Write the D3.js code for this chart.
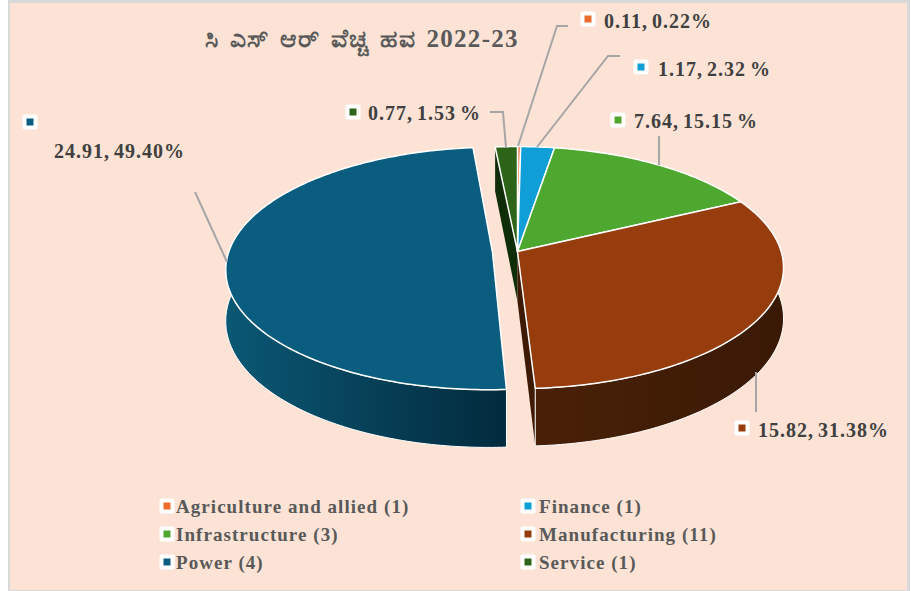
<!DOCTYPE html>
<html>
  <head>
    <title></title>
    <script src="https://cdn.jsdelivr.net/npm/d3@7"></script>
    <style>
      body, html{
        margin: 0;
        background: #fff;
      }
      svg{
        display: block;
      }
      text{
        font-family: "Liberation Serif", serif;
        font-weight: bold;
      }
    </style>
  </head>
  <body>
    <script>

// values
var categories = ['Agriculture and allied (1)', 'Finance (1)', 'Infrastructure (3)', 'Manufacturing (11)', 'Power (4)', 'Service (1)']
var percents = [0.22, 2.32, 15.15, 31.38, 49.40, 1.53]
var valueLabels = ['0.11, 0.22%', '1.17, 2.32 %', '7.64, 15.15 %', '15.82, 31.38%', '24.91, 49.40%', '0.77, 1.53 %']
var titleText = 'ಸಿ ಎಸ್ ಆರ್ ವೆಚ್ಚ ಹವ 2022-23'

// styling per slice
var colors = ['#ed6b2d', '#0f9ed5', '#4ea72e', '#963c0d', '#0a5d7f', '#2d6419']
var wallFrom = ['#8a3d18', '#095c7c', '#2d611a', '#4a2108', '#0a5874', '#0f2d08']
var wallTo = ['#8a3d18', '#095c7c', '#2d611a', '#3a1904', '#032a3d', '#0f2d08']
var explode = [0, 0, 0, 0, 0.095, 0]

// label layout: key x/y, text x/baseline
var labelKeys = [[588, 19], [641, 67], [618, 120], [742, 428], [30, 122], [353, 112]]
var labelText = [[604, 28], [658, 76], [634, 128], [758, 437], [54, 158], [368, 120]]
var leaders = [
  [[568, 26], [557, 26], [518, 146]],
  [[620, 56], [608, 56], [537, 147]],
  [[659, 136], [659, 165]],
  [[756, 372], [756, 412]],
  [[195, 192], [227, 262]],
  [[490, 112], [503, 112], [506, 148]]
]
var legendCols = [167, 528]
var legendRows = [506, 534, 562]

var width = 911, height = 591
var svg = d3.select('body').append('svg').attr('width', width).attr('height', height)

svg.append('rect').attr('x', 8).attr('y', 0).attr('width', 902).attr('height', 591).attr('fill', '#d9d9d9')
svg.append('rect').attr('x', 10).attr('y', 3).attr('width', 897).attr('height', 587).attr('fill', '#fce3d6')

// pie on a tilted disc, perspective k makes the near side bigger
var k = 0.132, depth = 50
var xScale = d3.scaleLinear().domain([-1, 1]).range([517.5 - 263.7, 517.5 + 263.7])
var yScale = d3.scaleLinear().domain([-1, 1]).range([251.6 + 118.9, 251.6 - 118.9])

function project(u, v, z){
  var s = 1 / (1 + k * v)
  return [xScale(u * s), yScale(v * s) + z * depth * s]
}

var pie = d3.pie().sort(null).value(function(d){ return d }).startAngle(0).endAngle(2 * Math.PI)
var slices = pie(percents).map(function(d, i){
  var mid = (d.startAngle + d.endAngle) / 2
  var du = explode[i] * Math.sin(mid), dv = explode[i] * Math.cos(mid)
  var n = Math.max(2, Math.ceil((d.endAngle - d.startAngle) * 60))
  var angles = d3.range(n + 1).map(function(j){
    return d.startAngle + (d.endAngle - d.startAngle) * j / n
  })
  return {
    i: i,
    at: function(a, z){ return project(du + Math.sin(a), dv + Math.cos(a), z) },
    apex: function(z){ return project(du, dv, z) },
    angles: angles,
    start: d.startAngle,
    end: d.endAngle
  }
})

var line = d3.line().x(function(p){ return p[0] }).y(function(p){ return p[1] })
var closedPath = function(pts){ return line(pts) + 'Z' }

var defs = svg.append('defs')
slices.forEach(function(s){
  var xs = s.angles.map(function(a){ return s.at(a, 0)[0] })
  var g = defs.append('linearGradient').attr('id', 'wall' + s.i)
    .attr('gradientUnits', 'userSpaceOnUse')
    .attr('x1', d3.min(xs)).attr('x2', d3.max(xs)).attr('y1', 0).attr('y2', 0)
  g.append('stop').attr('offset', 0).attr('stop-color', wallFrom[s.i])
  g.append('stop').attr('offset', 1).attr('stop-color', wallTo[s.i])
})

var pieG = svg.append('g').attr('stroke', '#fff').attr('stroke-linejoin', 'round')

// only two cut faces show: the end of manufacturing and the start of service
pieG.append('path').attr('fill', '#0f2d08').attr('stroke', 'none')
  .attr('d', closedPath([slices[5].apex(0), slices[5].at(slices[5].start, 0), slices[5].at(slices[5].start, 1), slices[5].apex(1)]))
pieG.append('path').attr('fill', '#3e1a05').attr('stroke', 'none')
  .attr('d', closedPath([slices[3].apex(0), slices[3].at(slices[3].end, 0), slices[3].at(slices[3].end, 1), slices[3].apex(1)]))

// the far side rims are hidden, just the near two are drawn
pieG.selectAll('path.rim').data(slices.slice(3, 5)).enter().append('path')
  .attr('class', 'rim')
  .attr('fill', function(s){ return 'url(#wall' + s.i + ')' })
  .attr('stroke-width', 1)
  .attr('d', function(s){
    var upper = s.angles.map(function(a){ return s.at(a, 0) })
    var lower = s.angles.map(function(a){ return s.at(a, 1) }).reverse()
    return closedPath(upper.concat(lower))
  })

pieG.selectAll('path.top').data(slices).enter().append('path')
  .attr('class', 'top')
  .attr('fill', function(s){ return colors[s.i] })
  .attr('stroke-width', 1.5)
  .attr('d', function(s){
    return closedPath([s.apex(0)].concat(s.angles.map(function(a){ return s.at(a, 0) })))
  })

svg.selectAll('path.leader').data(leaders).enter().append('path')
  .attr('class', 'leader')
  .attr('fill', 'none').attr('stroke', '#a6a6a6').attr('stroke-width', 2)
  .attr('d', line)

function key(g, x, y, color){
  g.append('rect').attr('x', x - 7.5).attr('y', y - 7.5).attr('width', 15).attr('height', 15)
    .attr('rx', 2).attr('fill', '#fff')
  g.append('rect').attr('x', x - 3.5).attr('y', y - 3.5).attr('width', 7).attr('height', 7)
    .attr('fill', color)
}

valueLabels.forEach(function(t, i){
  key(svg, labelKeys[i][0], labelKeys[i][1], colors[i])
  svg.append('text').attr('x', labelText[i][0]).attr('y', labelText[i][1])
    .attr('font-size', 20).attr('letter-spacing', 1).attr('word-spacing', -2)
    .attr('fill', '#404040').text(t)
})

svg.append('text').attr('x', 205).attr('y', 47)
  .attr('font-size', 25).attr('letter-spacing', 1.3).attr('word-spacing', 3)
  .attr('fill', '#595959').text(titleText)

categories.forEach(function(c, i){
  var x = legendCols[i % 2], y = legendRows[Math.floor(i / 2)]
  key(svg, x, y, colors[i])
  svg.append('text').attr('x', x + (i % 2 ? 11 : 9)).attr('y', y + 7)
    .attr('font-size', 19).attr('letter-spacing', 1.05)
    .attr('fill', '#595959').text(c)
})

    </script>
  </body>
</html>
